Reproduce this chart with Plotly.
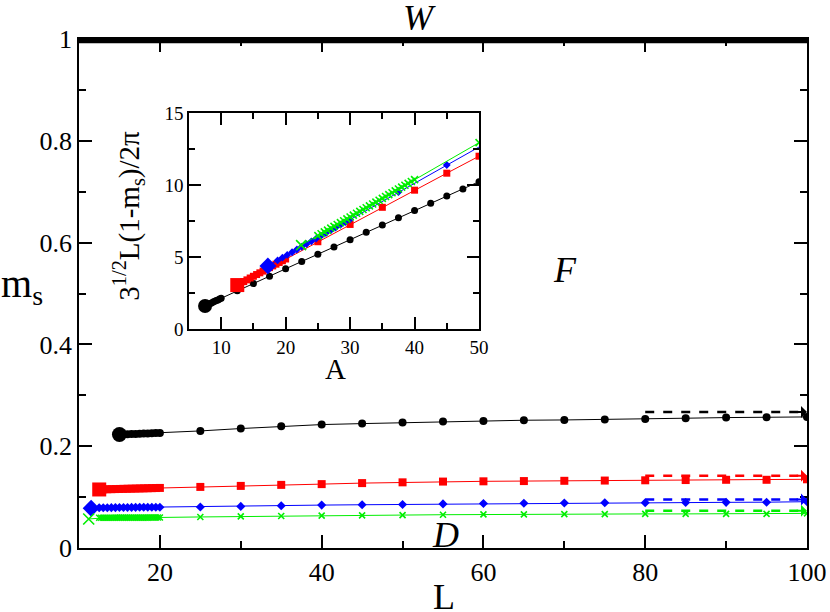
import plotly.graph_objects as go

# ---- main panel: m_s versus L ----
black_L = [15, 15.5, 16, 16.5, 17, 17.5, 18, 18.5, 19, 19.5, 20,
           25, 30, 35, 40, 45, 50, 55, 60, 65, 70, 75, 80, 85, 90, 95, 100]
black_ms = [0.223, 0.2233, 0.2236, 0.2239, 0.2242, 0.2245, 0.2248, 0.2251, 0.2254, 0.2257, 0.226,
            0.230, 0.2347, 0.239, 0.2425, 0.2444, 0.2464, 0.2484, 0.2497, 0.251, 0.2516, 0.2523,
            0.2536, 0.255, 0.2562, 0.2569, 0.2575]

red_L = [12.5, 13, 13.5, 14, 14.5, 15, 15.5, 16, 16.5, 17, 17.5, 18, 18.5, 19, 19.5, 20,
         25, 30, 35, 40, 45, 50, 55, 60, 65, 70, 75, 80, 85, 90, 95, 100]
red_ms = [0.115, 0.1152, 0.1154, 0.1156, 0.1158, 0.116, 0.1162, 0.1164, 0.1166, 0.1168, 0.117,
          0.1172, 0.1174, 0.1176, 0.1178, 0.118,
          0.120, 0.122, 0.124, 0.1255, 0.1275, 0.129, 0.1305, 0.131, 0.1315, 0.132, 0.1325,
          0.133, 0.1335, 0.134, 0.134, 0.135]

blue_L = [11.5, 12.5, 13, 13.5, 14, 14.5, 15, 15.5, 16, 16.5, 17, 17.5, 18, 18.5, 19, 19.5, 20,
          25, 30, 35, 40, 45, 50, 55, 60, 65, 70, 75, 80, 85, 90, 95, 100]
blue_ms = [0.078, 0.079, 0.0791, 0.0792, 0.0793, 0.0794, 0.0795, 0.0796, 0.0797, 0.0798, 0.0799,
           0.080, 0.080, 0.0801, 0.0801, 0.0802, 0.0802,
           0.0805, 0.0817, 0.083, 0.0843, 0.085, 0.0856, 0.0866, 0.0875, 0.088, 0.0885, 0.0888,
           0.089, 0.0893, 0.0897, 0.090, 0.091]

green_L = [11.2,
           12.5, 12.75, 13, 13.25, 13.5, 13.75, 14, 14.25, 14.5, 14.75, 15, 15.25, 15.5, 15.75,
           16, 16.25, 16.5, 16.75, 17, 17.25, 17.5, 17.75, 18, 18.25, 18.5, 18.75, 19, 19.25,
           19.5, 19.75, 20,
           25, 30, 35, 40, 45, 50, 55, 60, 65, 70, 75, 80, 85, 90, 95, 100]
green_ms = [0.057,
            0.0594, 0.0594, 0.0594, 0.0594, 0.0595, 0.0595, 0.0595, 0.0595, 0.0596, 0.0596,
            0.0596, 0.0596, 0.0596, 0.0597, 0.0597, 0.0597, 0.0597, 0.0597, 0.0597, 0.0598,
            0.0598, 0.0598, 0.0598, 0.0598, 0.0598, 0.0599, 0.0599, 0.0599, 0.0599, 0.060, 0.060,
            0.061, 0.062, 0.0628, 0.0635, 0.064, 0.0647, 0.0654, 0.066, 0.066, 0.0665, 0.0665,
            0.067, 0.067, 0.067, 0.067, 0.068]

# extrapolated limits (dashed arrows) and the W boundary
arrow_L = [80, 100]
arrow_ms = {"black": 0.267, "red": 0.142, "blue": 0.0954, "green": 0.073}
wall_L = [10, 100]
wall_ms = [1, 1]

# ---- inset: 3^(1/2) L (1-m_s) / 2pi versus A ----
inset_black_A = [7.5, 7.75, 8, 8.25, 8.5, 8.75, 9, 9.25, 9.5, 9.75, 10,
                 12.5, 15, 17.5, 20, 22.5, 25, 27.5, 30, 32.5, 35, 37.5, 40, 42.5, 45, 47.5, 50]
inset_black_y = [1.6, 1.66, 1.71, 1.76, 1.81, 1.87, 1.92, 1.97, 2.02, 2.08, 2.13,
                 2.65, 3.16, 3.67, 4.18, 4.69, 5.19, 5.70, 6.20, 6.71, 7.22, 7.73, 8.23, 8.73,
                 9.23, 9.73, 10.23]

inset_red_A = [12.5, 13, 13.5, 14, 14.5, 15, 15.5, 16, 16.5, 17, 17.5, 18, 18.5, 19, 19.5, 20,
               25, 30, 35, 40, 45, 50]
inset_red_y = [3.05, 3.17, 3.29, 3.41, 3.54, 3.66, 3.78, 3.90, 4.02, 4.14, 4.26, 4.38, 4.50,
               4.62, 4.74, 4.86, 6.06, 7.26, 8.45, 9.64, 10.82, 12.0]

inset_blue_A = [17.25, 18.75, 19.5, 20.25, 21, 21.75, 22.5, 23.25, 24, 24.75, 25.5, 26.25, 27,
                27.75, 28.5, 29.25, 30, 37.5, 45, 52.5]
inset_blue_y = [4.38, 4.76, 4.95, 5.14, 5.33, 5.52, 5.71, 5.90, 6.09, 6.28, 6.47, 6.66, 6.85,
                7.04, 7.23, 7.42, 7.61, 9.51, 11.39, 13.27]

inset_green_A = [22.4,
                 25, 25.5, 26, 26.5, 27, 27.5, 28, 28.5, 29, 29.5, 30, 30.5, 31, 31.5, 32, 32.5,
                 33, 33.5, 34, 34.5, 35, 35.5, 36, 36.5, 37, 37.5, 38, 38.5, 39, 39.5, 40,
                 50]
inset_green_y = [5.82,
                 6.48, 6.61, 6.74, 6.87, 7.00, 7.13, 7.26, 7.39, 7.52, 7.65, 7.78, 7.91, 8.04,
                 8.17, 8.30, 8.42, 8.55, 8.68, 8.81, 8.94, 9.07, 9.20, 9.33, 9.46, 9.59, 9.72,
                 9.85, 9.98, 10.11, 10.24, 10.37,
                 12.94]

FONT = "Liberation Serif"
COLORS = {"black": "#000000", "red": "#ff0000", "blue": "#0000ff", "green": "#00ee00"}
SYMBOLS = {"black": "circle", "red": "square", "blue": "diamond", "green": "x-thin"}

main_series = [("black", black_L, black_ms, 8, 15),
               ("red", red_L, red_ms, 8, 14),
               ("blue", blue_L, blue_ms, 7, 13),
               ("green", green_L, green_ms, 6, 11)]
inset_series = [("black", inset_black_A, inset_black_y, 7, 14),
                ("red", inset_red_A, inset_red_y, 7, 14),
                ("blue", inset_blue_A, inset_blue_y, 6, 13),
                ("green", inset_green_A, inset_green_y, 7, 10)]


def series_trace(key, xs, ys, size, big, xaxis="x", yaxis="y"):
    col = COLORS[key]
    sizes = [big] + [size] * (len(xs) - 1)  # first point drawn large
    return go.Scatter(
        x=xs, y=ys, mode="lines+markers", xaxis=xaxis, yaxis=yaxis,
        line=dict(color=col, width=1),
        marker=dict(symbol=SYMBOLS[key], size=sizes, color=col, opacity=1,
                    line=dict(color=col, width=1.6 if key == "green" else 0)),
        showlegend=False, hoverinfo="skip",
    )


fig = go.Figure()

# W boundary at m_s = 1
fig.add_trace(go.Scatter(x=wall_L, y=wall_ms, mode="lines", line=dict(color="black", width=8.5),
                         showlegend=False, hoverinfo="skip"))

for key, xs, ys, size, big in main_series:
    fig.add_trace(series_trace(key, xs, ys, size, big))

# dashed extrapolation arrows
for key, val in arrow_ms.items():
    fig.add_trace(go.Scatter(x=arrow_L, y=[val, val], mode="lines",
                             line=dict(color=COLORS[key], width=2.5, dash="dash"),
                             showlegend=False, hoverinfo="skip"))
    fig.add_annotation(x=arrow_L[1], y=val, xref="x", yref="y", ax=-12, ay=0,
                       showarrow=True, arrowhead=1, arrowsize=1, arrowwidth=2,
                       arrowcolor=COLORS[key], text="")

for key, xs, ys, size, big in inset_series:
    fig.add_trace(series_trace(key, xs, ys, size, big, xaxis="x2", yaxis="y2"))

axis_common = dict(showline=True, linecolor="black", linewidth=1.5, mirror="allticks",
                   ticks="inside", tickcolor="black", tickwidth=1.5, showgrid=False,
                   zeroline=False, automargin=False)
minor_common = dict(ticks="inside", tickcolor="black", tickwidth=1.5)

fig.update_layout(
    width=830, height=612,
    margin=dict(l=79, r=23, t=39, b=64),
    plot_bgcolor="white", paper_bgcolor="white",
    font=dict(family=FONT, color="black"),
    xaxis=dict(range=[10, 100], tick0=0, dtick=20, ticklen=13,
               minor=dict(dtick=10, ticklen=7, **minor_common),
               tickfont=dict(family=FONT, size=26, color="black"), **axis_common),
    yaxis=dict(range=[0, 1], tick0=0, dtick=0.2, ticklen=13,
               minor=dict(dtick=0.1, ticklen=7, **minor_common),
               tickfont=dict(family=FONT, size=26, color="black"), **axis_common),
    xaxis2=dict(domain=[0.151, 0.5495], anchor="y2", range=[5, 50], tick0=0, dtick=10,
                ticklen=12, minor=dict(dtick=5, ticklen=6, **minor_common),
                tickfont=dict(family=FONT, size=19, color="black"), **axis_common),
    yaxis2=dict(domain=[0.4303, 0.8546], anchor="x2", range=[0, 15], tick0=0, dtick=5,
                ticklen=12, minor=dict(dtick=2.5, ticklen=6, **minor_common),
                tickfont=dict(family=FONT, size=19, color="black"), **axis_common),
)

# axis titles and region labels
labels = [
    ("m<sub>s</sub>", -0.078, 0.515, 40, 0),
    ("L", 0.501, -0.096, 36, 0),
    ("<i>W</i>", 0.468, 1.042, 36, 0),
    ("<i>F</i>", 0.668, 0.546, 36, 0),
    ("<i>D</i>", 0.503, 0.026, 36, 0),
    ("3<sup>1/2</sup>L(1-m<sub>s</sub>)/2π", 0.068, 0.652, 29, -90),
    ("A", 0.352, 0.352, 29, 0),
]
for text, x, y, size, angle in labels:
    fig.add_annotation(text=text, x=x, y=y, xref="paper", yref="paper", showarrow=False,
                       xanchor="center", yanchor="middle", textangle=angle,
                       font=dict(family=FONT, size=size, color="black"))

# the page's default body margin would shift the figure; remove it
fig.write_html("out.html", config={"displayModeBar": False},
               post_script="document.body.style.margin = '0';")
